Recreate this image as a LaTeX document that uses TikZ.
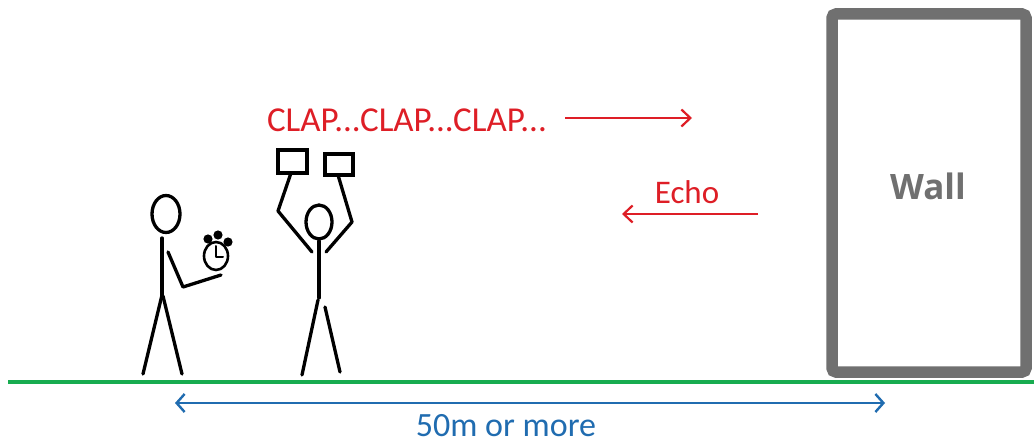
\documentclass[tikz,border=0pt]{standalone}
\usepackage{fontspec}
\setmainfont{Carlito}
\newfontfamily\wallfont{Open Sans}
\usetikzlibrary{arrows.meta}
\definecolor{clapred}{RGB}{222,30,38}
\definecolor{groundgreen}{RGB}{24,172,80}
\definecolor{distblue}{RGB}{32,108,176}
\definecolor{wallgray}{RGB}{112,112,112}
\tikzset{
  stick/.style={line width=3.3pt, black, line cap=round, line join=round},
  soundarrow/.style={line width=2.2pt, clapred, -{Straight Barb[length=9pt,width=17pt,line width=2.2pt]}},
  label/.style={inner sep=0pt, anchor=base},
}
\begin{document}
\begin{tikzpicture}[x=1pt,y=-1pt]
\useasboundingbox (0,0) rectangle (1034,444);
\fill[white] (0,0) rectangle (1034,444);

% wall
\draw[wallgray, line width=11.5pt, rounded corners=4pt] (832,14) rectangle (1026,372);
\node[inner sep=0pt, anchor=base, text=wallgray, font=\wallfont\bfseries\fontsize{35}{38}\selectfont] (walltext) at (928,199) {Wall};

% ground
\coordinate (groundL) at (8,382);
\coordinate (groundR) at (1034,382);
\draw[groundgreen, line width=4.5pt] (groundL) -- (groundR);

% distance marker
\coordinate (distL) at (175,403);
\coordinate (distR) at (885,403);
\draw[distblue, line width=2.4pt, {Straight Barb[length=8pt,width=18pt,line width=2.4pt]}-{Straight Barb[length=8pt,width=18pt,line width=2.4pt]}] (distL) -- (distR);
\node[label, text=distblue, font=\fontsize{34}{36}\selectfont] (dist) at (506,436) {50m or more};

% sound and its echo
\node[label, text=clapred, font=\fontsize{35}{38}\selectfont] (clap) at (407,131) {CLAP...CLAP...CLAP...};
\coordinate (clapA) at (565,118);
\coordinate (clapB) at (692,118);
\draw[soundarrow] (clapA) -- (clapB);
\node[label, text=clapred, font=\fontsize{33}{36}\selectfont] (echo) at (687,203) {Echo};
\coordinate (echoA) at (758,214);
\coordinate (echoB) at (622,214);
\draw[soundarrow] (echoA) -- (echoB);

% timekeeper with the clock
\draw[stick] (166,214) ellipse [x radius=14, y radius=18.5];
\draw[stick] (162,238) -- (162,295);
\draw[stick] (162,295) -- (143,374);
\draw[stick] (163,296) -- (182,374);
\draw[stick] (168,252) -- (183,287) -- (221,275);
\draw[stick, line width=2.6pt] (216,256) ellipse [x radius=12, y radius=14];
\draw[stick, line width=2pt] (216,246) -- (216,257) -- (223,257);
\fill (208,239) circle (4.6);
\fill (218,235) circle (4.6);
\fill (228,242) circle (4.6);

% clapper with raised arms
\draw[stick] (319,222) ellipse [x radius=13, y radius=17];
\draw[stick] (319,241) -- (319,298);
\draw[stick] (318,300) -- (302,375);
\draw[stick] (325,307) -- (340,372);
\draw[stick] (312,252) -- (278,211) -- (291,173);
\draw[stick] (326,252) -- (352,222) -- (338,175);
\draw[stick, line cap=butt, line join=miter] (278,150) rectangle (307,173);
\draw[stick, line cap=butt, line join=miter] (325,154) rectangle (353,175);
\end{tikzpicture}
\end{document}
